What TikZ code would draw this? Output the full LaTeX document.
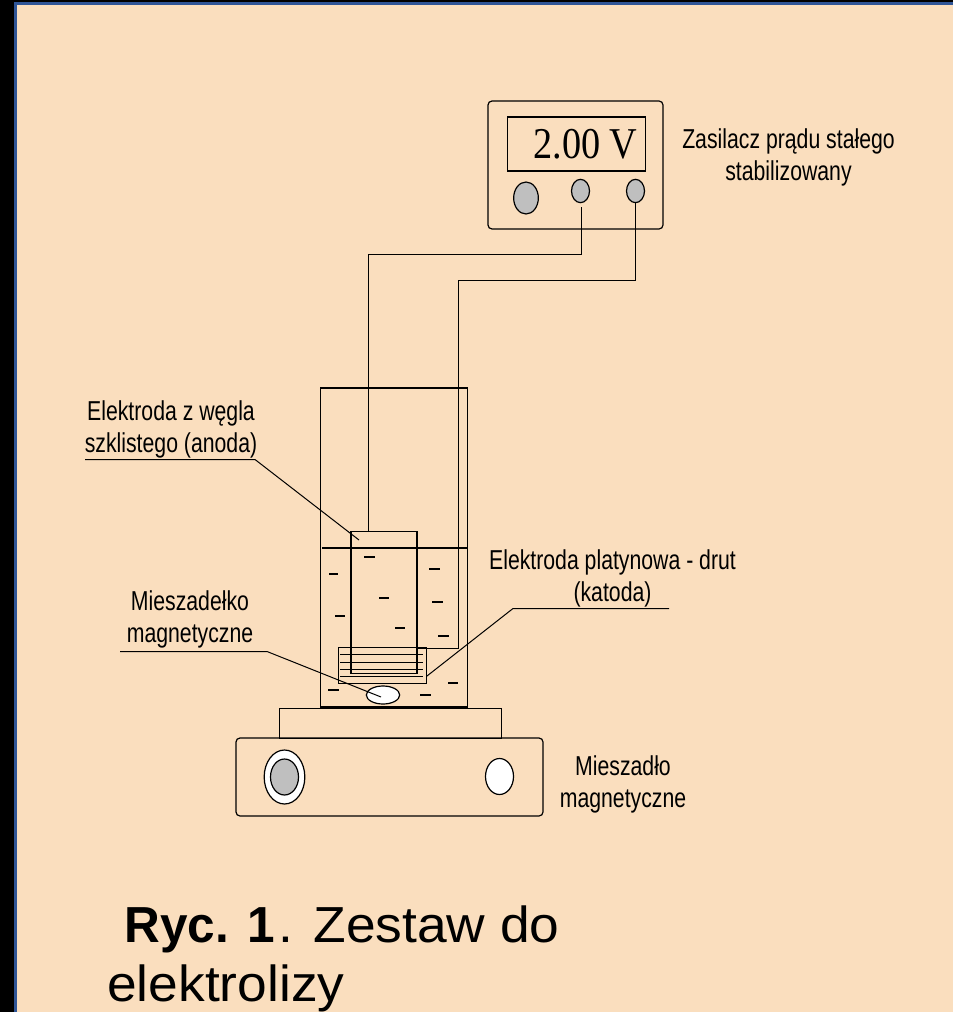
\documentclass[tikz,border=0pt]{standalone}
\usepackage{fontspec}
\usetikzlibrary{shapes.geometric}
\setmainfont{Liberation Sans}
\newfontfamily\serifnum{Liberation Serif}
\definecolor{bgc}{HTML}{FADEBE}
\definecolor{framec}{HTML}{2F5597}
\definecolor{knobc}{HTML}{BFBFBF}
\tikzset{
  part/.style={draw=black,line width=0.9pt},
  thin part/.style={draw=black,line width=0.75pt},
  wire/.style={draw=black,line width=0.8pt},
  dashmark/.style={draw=black,line width=0.8pt},
  lbl/.style={inner sep=0pt,align=center,font=\fontsize{20.5}{24}\selectfont,xscale=0.777},
  captxt/.style={inner sep=0pt,anchor=base west,font=\fontsize{38}{44}\selectfont,xscale=1.053},
}
\begin{document}
\begin{tikzpicture}[x=0.75pt,y=-0.75pt]
\useasboundingbox (0,0) rectangle (953,1012);
\fill[black] (0,0) rectangle (953,1012);
\fill[framec] (14,2) rectangle (953,1012);
\fill[bgc] (16.5,5) rectangle (953,1012);

% power supply
\draw[part,rounded corners=3pt] (488,101) rectangle (663,229);
\node[part,minimum width=103pt,minimum height=40.5pt,inner sep=0pt] (display) at (576.5,144) {};
\node[inner sep=0pt,font=\serifnum\fontsize{33}{33}\selectfont,xscale=0.87] (reading) at (585.5,144) {2.00 V};
\node[part,fill=knobc,ellipse,minimum width=18.5pt,minimum height=24pt,inner sep=0pt] (k1) at (526,198) {};
\node[part,fill=knobc,ellipse,minimum width=13.5pt,minimum height=17.5pt,inner sep=0pt] (k2) at (580.5,191) {};
\node[part,fill=knobc,ellipse,minimum width=13.5pt,minimum height=17.5pt,inner sep=0pt] (k3) at (635.5,191) {};
\node[lbl] (psu) at (788.5,157) {Zasilacz prądu stałego\\stabilizowany};

% beaker, liquid, electrodes
\coordinate (bk1) at (320.5,388);
\coordinate (bk2) at (467.5,707);
\draw[part] (bk1) rectangle (bk2);
\coordinate (liqL) at (322,548);
\coordinate (liqR) at (468,548);
\draw[part] (liqL) -- (liqR);
\node[part,minimum width=49.5pt,minimum height=107pt,inner sep=0pt] (anode) at (384,602.5) {};
\coordinate (w1s) at (368.5,531);
\coordinate (w1a) at (368.5,254.5);
\coordinate (w1b) at (581.5,254.5);
\coordinate (w1e) at (581.5,207);
\draw[wire] (w1s) -- (w1a) -- (w1b) -- (w1e);
\coordinate (w2s) at (417,648.5);
\coordinate (w2a) at (458.5,648.5);
\coordinate (w2b) at (458.5,280.5);
\coordinate (w2c) at (635.5,280.5);
\draw[wire] (w2s) -- (w2a) -- (w2b) -- (w2c) -- (k3.south);
\node[part,minimum width=65.5pt,minimum height=26.5pt,inner sep=0pt] (cath) at (382.5,665.5) {};
\foreach \yy in {654.5,662.5,669.5,676.5} \draw[thin part] (340,\yy) -- (423,\yy);
\node[part,fill=white,ellipse,minimum width=25pt,minimum height=13.5pt,inner sep=0pt] (stir) at (383,695) {};

% dashes in the liquid
\foreach \xa/\xb/\yy in {364/375/557,329/338/574,429/440/569,379/389/598,432/443/602,335/345/616,395/405/628,438/449/636,448/458/683,328/339/690,420/431/695}
  \draw[dashmark] (\xa,\yy) -- (\xb,\yy);

% stirrer base
\node[part,minimum width=167pt,minimum height=22pt,inner sep=0pt] (stand) at (390.5,723.5) {};
\draw[part,rounded corners=3pt] (236,738) rectangle (543,816);
\node[part,fill=white,ellipse,minimum width=30.5pt,minimum height=40.5pt,inner sep=0pt] (kn1) at (284.5,777) {};
\node[part,fill=knobc,ellipse,minimum width=21pt,minimum height=27pt,inner sep=0pt] (kn1i) at (284.5,777) {};
\node[part,fill=white,ellipse,minimum width=21pt,minimum height=27pt,inner sep=0pt] (kn2) at (499.5,776.5) {};

% labels and leaders
\node[lbl] (anl) at (171,429) {Elektroda z węgla\\szklistego (anoda)};
\coordinate (an1) at (85,459.5); \coordinate (an2) at (255,459.5); \coordinate (an4) at (359,540);
\draw[thin part] (an1) -- (an2) -- (an4);
\node[lbl] (ptl) at (612.5,578.5) {Elektroda platynowa - drut\\(katoda)};
\coordinate (pt2) at (669,608.5); \coordinate (pt3) at (513,608.5); \coordinate (pt4) at (427,676);
\draw[thin part] (pt2) -- (pt3) -- (pt4);
\node[lbl] (mzl) at (190,619) {Mieszadełko\\magnetyczne};
\coordinate (mz1) at (120,651.5); \coordinate (mz2) at (267,651.5); \coordinate (mz3) at (381,697);
\draw[thin part] (mz1) -- (mz2) -- (mz3);
\node[lbl] (msl) at (623,784) {Mieszadło\\magnetyczne};

% caption
\node[captxt] (c1) at (124,942) {\textbf{\scalebox{0.928}[1]{Ryc. 1}}\kern3pt. Zestaw do};
\node[captxt] (c2) at (107,1001) {elektrolizy};
\end{tikzpicture}
\end{document}
